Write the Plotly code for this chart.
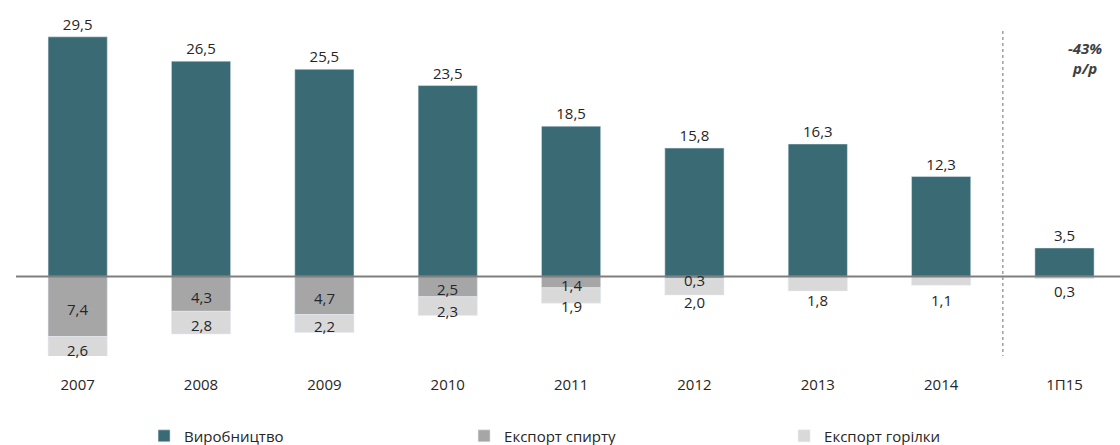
import plotly.graph_objects as go

# Production and exports, by year
categories = ["2007", "2008", "2009", "2010", "2011", "2012", "2013", "2014", "1П15"]
production = [29.5, 26.5, 25.5, 23.5, 18.5, 15.8, 16.3, 12.3, 3.5]
spirit_export = [7.4, 4.3, 4.7, 2.5, 1.4, 0.3, None, None, None]
vodka_export = [2.6, 2.8, 2.2, 2.3, 1.9, 2.0, 1.8, 1.1, 0.3]
change_note = "-43%<br>р/р"

TEAL = "#3A6B74"
GREY = "#A6A6A6"
LIGHT = "#D9D9D9"
FONT = "Open Sans"
TXT = "#262626"


def fmt(v):
    return f"{v:.1f}".replace(".", ",")


x_idx = list(range(len(categories)))

fig = go.Figure()
fig.add_trace(go.Bar(
    x=x_idx, y=production, name="Виробництво", marker_color=TEAL,
    text=[fmt(v) for v in production], textposition="outside",
    textfont=dict(family=FONT, size=15, color=TXT), cliponaxis=False,
))
fig.add_trace(go.Bar(
    x=x_idx, y=[-v if v is not None else None for v in spirit_export],
    name="Експорт спирту", marker_color=GREY,
))
fig.add_trace(go.Bar(
    x=x_idx, y=[-v for v in vodka_export],
    name="Експорт горілки", marker_color=LIGHT,
))

# value labels for the export segments
annotations = []
lbl_font = dict(family=FONT, size=15, color=TXT)
for i, (s, v) in enumerate(zip(spirit_export, vodka_export)):
    if s is not None:
        ys = -(s / 2 + 0.35)
        annotations.append(dict(x=i, y=ys, text=fmt(s), showarrow=False,
                                font=lbl_font, yanchor="middle"))
        yv = min(-s - v / 2 - 0.3, ys - 2.6, -2.9)
    else:
        yv = -2.9 if v >= 1 else -(v / 2 + 1.6)
    annotations.append(dict(x=i, y=yv, text=fmt(v), showarrow=False,
                            font=lbl_font, yanchor="middle"))

annotations.append(dict(
    x=8.17, y=26.9, text=f"<i><b>{change_note}</b></i>", showarrow=False,
    font=dict(family=FONT, size=15, color="#404040"), align="center",
    yanchor="middle"))
fig.update_layout(annotations=annotations)

# zero baseline and separator for the half-year column
fig.add_shape(type="line", xref="paper", yref="y", x0=0, x1=1, y0=0, y1=0,
              line=dict(color="#7F7F7F", width=2))
fig.add_shape(type="line", xref="x", yref="y", x0=7.5, x1=7.5, y0=30.2, y1=-10.2,
              line=dict(color="#A0A0A0", width=1.5, dash="dot"))

fig.update_layout(
    width=1120, height=445,
    margin=dict(l=16, r=0, t=10, b=89),
    barmode="relative", bargap=0.52,
    plot_bgcolor="white", paper_bgcolor="white",
    showlegend=True,
    legend=dict(orientation="h", x=0.116, xanchor="left",
                yref="container", y=0.02, yanchor="middle",
                entrywidth=275, entrywidthmode="pixels",
                font=dict(family=FONT, size=15, color=TXT), itemwidth=30),
    xaxis=dict(tickmode="array", tickvals=x_idx, ticktext=categories,
               range=[-0.5, 8.45], showgrid=False, zeroline=False, showline=False,
               ticks="", ticklabelstandoff=18,
               tickfont=dict(family=FONT, size=15, color=TXT)),
    yaxis=dict(range=[-9.8, 32.8], visible=False, showgrid=False, zeroline=False),
    font=dict(family=FONT),
)

fig.write_html("out.html")
